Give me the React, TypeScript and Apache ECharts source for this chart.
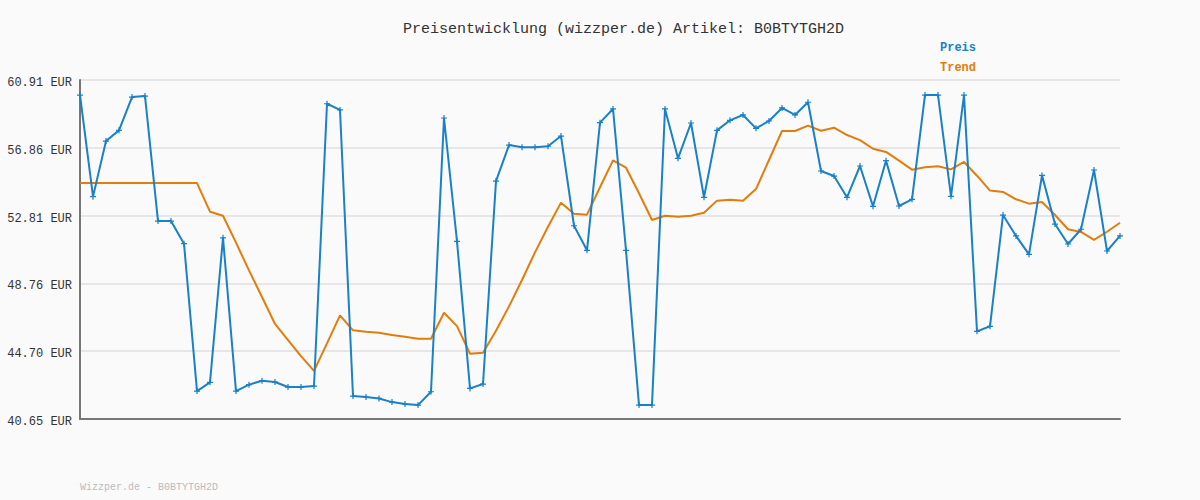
import React, { useEffect, useRef } from "react";
import * as echarts from "echarts";

const tickLabels = ["40.65 EUR", "44.70 EUR", "48.76 EUR", "52.81 EUR", "56.86 EUR", "60.91 EUR"];
const yMin = 40.65;
const yMax = 60.91;

const preis = [
  60.01, 53.94, 57.26, 57.9, 59.89, 59.95, 52.48, 52.48, 51.13, 42.32,
  42.84, 51.48, 42.32, 42.7, 42.94, 42.86, 42.56, 42.56, 42.62, 59.49,
  59.12, 42.02, 41.96, 41.88, 41.66, 41.54, 41.48, 42.28, 58.64, 51.27,
  42.48, 42.74, 54.87, 57.02, 56.89, 56.89, 56.95, 57.56, 52.2, 50.73,
  58.36, 59.18, 50.73, 41.48, 41.48, 59.18, 56.23, 58.34, 53.9, 57.9,
  58.5, 58.82, 58.02, 58.46, 59.24, 58.82, 59.58, 55.47, 55.17, 53.9,
  55.77, 53.36, 56.09, 53.38, 53.78, 60.01, 60.01, 53.96, 60.01, 45.89,
  46.19, 52.84, 51.59, 50.49, 55.21, 52.3, 51.11, 51.99, 55.53, 50.69,
  51.59,
];

const trend = [
  54.75, 54.75, 54.75, 54.75, 54.75, 54.75, 54.75, 54.75, 54.75, 54.75,
  53.04, 52.8, 51.19, 49.53, 47.94, 46.33, 45.37, 44.41, 43.53, 45.17,
  46.84, 45.95, 45.87, 45.81, 45.67, 45.57, 45.45, 45.45, 47.0, 46.2,
  44.55, 44.61, 45.92, 47.38, 48.96, 50.61, 52.14, 53.58, 52.92, 52.86,
  54.5, 56.11, 55.67, 54.14, 52.54, 52.8, 52.74, 52.8, 52.98, 53.7,
  53.76, 53.7, 54.39, 56.13, 57.86, 57.86, 58.18, 57.88, 58.06, 57.62,
  57.32, 56.8, 56.61, 56.09, 55.55, 55.69, 55.75, 55.57, 56.01, 55.19,
  54.3, 54.22, 53.78, 53.52, 53.62, 52.84, 51.99, 51.83, 51.36, 51.84,
  52.38,
];

const categories = preis.map((_, i) => String(i + 1));

const BLUE = "#1a80c8";
const ORANGE = "#e27d0c";
const MONO = "'Liberation Mono', 'DejaVu Sans Mono', monospace";

export default function App() {
  const ref = useRef<HTMLDivElement>(null);
  useEffect(() => {
    document.body.style.margin = "0";
    const chart = echarts.init(ref.current!, undefined, { renderer: "svg" });
    chart.setOption({
      animation: false,
      backgroundColor: "#fafafa",
      grid: { left: 80, right: 80, top: 80, bottom: 81, containLabel: false },
      xAxis: {
        type: "category",
        data: categories,
        boundaryGap: false,
        axisLine: { show: true, lineStyle: { color: "#777", width: 2 } },
        axisTick: { show: false },
        axisLabel: { show: false },
        splitLine: { show: false },
      },
      yAxis: [
        {
          type: "value",
          min: yMin,
          max: yMax,
          axisLine: { show: true, lineStyle: { color: "#777", width: 2 } },
          axisTick: { show: false },
          axisLabel: { show: false },
          splitLine: { show: false },
        },
        {
          type: "value",
          position: "left",
          min: 0,
          max: tickLabels.length - 1,
          interval: 1,
          axisLine: { show: false },
          axisTick: { show: false },
          axisLabel: {
            show: true,
            formatter: (v: number) => tickLabels[Math.round(v)],
            fontFamily: MONO,
            fontSize: 12,
            color: "#333",
            margin: 8,
            verticalAlign: "top",
            lineHeight: 6,
          },
          splitLine: { show: true, lineStyle: { color: "#e6e6e6", width: 2 } },
        },
      ],
      series: [
        {
          name: "Trend",
          type: "line",
          yAxisIndex: 0,
          data: trend,
          showSymbol: false,
          symbol: "none",
          lineStyle: { color: ORANGE, width: 2 },
          itemStyle: { color: ORANGE },
          z: 3,
        },
        {
          name: "Preis",
          type: "line",
          yAxisIndex: 0,
          data: preis,
          symbol: "path://M2,0H3V2H5V3H3V5H2V3H0V2H2Z",
          symbolSize: 6,
          showSymbol: true,
          lineStyle: { color: BLUE, width: 2 },
          itemStyle: { color: BLUE },
          z: 4,
        },
      ],
      graphic: [
        {
          type: "text",
          left: 403,
          top: 22,
          style: {
            text: "Preisentwicklung (wizzper.de) Artikel: B0BTYTGH2D",
            font: `15px ${MONO}`,
            fill: "#333",
          },
        },
        {
          type: "text",
          left: 940,
          top: 42,
          style: { text: "Preis", font: `bold 12px ${MONO}`, fill: BLUE },
        },
        {
          type: "text",
          left: 940,
          top: 62,
          style: { text: "Trend", font: `bold 12px ${MONO}`, fill: ORANGE },
        },
        {
          type: "text",
          left: 80,
          top: 482,
          style: { text: "Wizzper.de - B0BTYTGH2D", font: `10px ${MONO}`, fill: "#bbb" },
        },
      ],
    });
    return () => chart.dispose();
  }, []);
  return <div ref={ref} style={{ width: 1200, height: 500 }} />;
}
